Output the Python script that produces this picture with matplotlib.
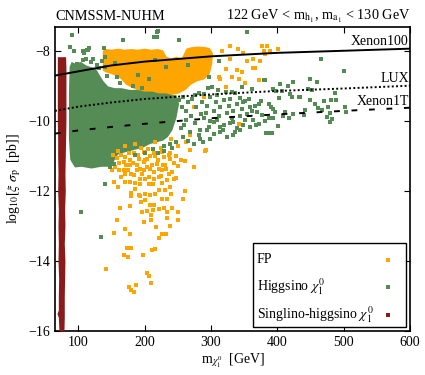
import numpy as np
import matplotlib.pyplot as plt
from matplotlib.patches import Rectangle

plt.rcParams['font.family'] = ['Liberation Serif', 'DejaVu Serif']
plt.rcParams['mathtext.fontset'] = 'stix'
plt.rcParams['font.size'] = 10

ORANGE = '#FFA500'
GREEN = '#558B55'
DARKRED = '#8B1A1A'

# exclusion limits, log10 of cross section vs neutralino mass
limit_m = [65, 100, 150, 200, 300, 400, 500, 600]
xenon100 = [-8.69, -8.57, -8.40, -8.29, -8.14, -8.04, -7.98, -7.92]
lux = [-9.70, -9.58, -9.46, -9.36, -9.23, -9.13, -9.06, -8.98]
xenon1t_m = [65, 100, 150, 200, 250, 300, 400, 500, 600]
xenon1t = [-10.35, -10.26, -10.16, -10.07, -9.99, -9.91, -9.80, -9.70, -9.61]

# outline of the dense higgsino cloud
green_poly_m = [87, 90, 96, 104, 112, 120, 127, 133, 138, 145, 155, 165, 178, 190, 200,
                212, 222, 232, 242, 248, 252, 248, 242, 235, 228, 218, 208, 198, 188, 178,
                168, 160, 155, 152, 145, 135, 120, 105, 95, 88, 86, 86]
green_poly_y = [-8.45, -8.30, -8.35, -8.30, -8.40, -8.45, -8.50, -8.70, -8.85, -9.00, -9.05,
                -9.05, -9.10, -9.10, -9.15, -9.15, -9.20, -9.20, -9.25, -9.25, -9.50, -9.90,
                -10.25, -10.45, -10.55, -10.60, -10.65, -10.75, -10.80, -10.85, -10.90, -10.95,
                -11.10, -11.25, -11.30, -11.30, -11.35, -11.30, -11.32, -11.10, -10.50, -9.20]

# outline of the dense FP cloud
orange_poly_m = [137, 142, 150, 160, 170, 180, 190, 200, 210, 220, 228, 233, 240, 248, 256,
                 263, 270, 280, 290, 298, 303, 302, 298, 290, 280, 270, 262, 252, 240, 225,
                 210, 195, 182, 172, 165, 158, 150, 142, 137]
orange_poly_y = [-7.98, -7.93, -7.95, -7.92, -7.95, -7.93, -7.95, -7.92, -7.95, -7.93, -7.97,
                 -8.15, -8.20, -8.15, -8.20, -7.92, -7.88, -7.86, -7.87, -7.90, -8.05, -8.35,
                 -8.65, -8.80, -8.85, -8.95, -9.10, -9.20, -9.25, -9.25, -9.20, -9.15, -9.05,
                 -8.95, -8.80, -8.70, -8.65, -8.60, -8.55]

# singlino-higgsino strip: edges at given heights
red_y = [-8.15, -8.5, -9, -9.5, -10, -10.5, -11, -11.5, -12, -12.5, -13, -13.5, -14,
         -14.5, -15, -15.4, -15.5, -15.6, -16]
red_left = [68.5, 68.5, 68.5, 68.5, 68.5, 69, 69, 69.5, 69, 70, 69.5, 70, 69.5, 70.5, 70,
            70, 68, 70, 71]
red_right = [81, 81.5, 81.5, 81.5, 81.5, 81, 80.5, 80, 80.5, 79.5, 80, 79, 80, 79.5, 79,
             79, 79, 79, 78.5]

# FP scattered points
fp_m = [291.6, 269, 261.5, 275, 250.4, 248, 261.5, 258, 250, 250.4, 240, 241.4, 239, 234,
        234, 234, 229, 232, 226, 221.3, 215.3, 211.3, 217.3, 209.8, 210.3, 212.3, 222.3,
        213.8, 207.8, 201.3, 196.3, 199.8, 203.8, 195.3, 192.2, 178.7, 163.6, 158.6, 171.2,
        178.7, 153.6, 173.7, 179.7, 168.7, 175.2, 197.8, 142.1, 203.8, 207.3, 209.8, 187.2,
        177.2, 180.2, 184.7, 179.7, 180.2, 192.7, 207.8, 234, 231.4, 221.3, 216.3, 206.3,
        193.7, 177.7, 171.2, 154.6, 160.1, 241.4, 239, 226.3, 236.4, 221.3, 213.8, 206.3,
        198.8, 192.7, 183.7, 179.7, 174.7, 168.7, 178.7, 188.7, 198.8, 211.3, 218.8, 231.4,
        239, 228.9, 216.3, 203.8, 191.2, 178.7, 168.7, 161.1, 156.1, 151.1, 171.2, 183.7,
        198.8, 213.8, 226.3, 239, 208.8, 221.3, 193.7, 201.3, 226.3,
        215, 225, 240, 250, 262, 205, 195, 185, 170, 160, 268, 292, 343, 290, 275,
        377, 384, 389, 380, 401, 382, 374, 367, 372,
        329, 341, 317, 349, 328, 364, 354, 322, 339, 347, 364, 332, 342, 352, 323, 372,
        312, 314, 343, 292,
        152, 158, 165, 172, 176, 182, 188, 190, 196, 200, 204, 208, 214, 220, 224, 228,
        233, 237, 244, 247, 255, 165, 170, 186, 200, 212, 226, 245, 185, 162]
fp_y = [-10.85, -10.83, -11.13, -11.32, -11.28, -11.62, -11.99, -12.23, -12.59, -12.83,
        -12.07, -12.48, -13.0, -12.78, -12.59, -12.23, -12.48, -13.21, -13.21, -13.35,
        -13.64, -13.69, -13.02, -12.83, -12.69, -12.54, -12.5, -12.4, -12.4, -12.26, -12.59,
        -12.88, -12.57, -12.32, -12.1, -12.43, -12.48, -12.83, -13.09, -13.21, -13.19,
        -13.62, -13.62, -13.83, -13.88, -13.83, -14.23, -14.33, -14.43, -14.62, -14.69,
        -14.73, -14.83, -14.88, -12.05, -12.13, -12.14, -12.12, -11.69, -11.97, -11.97,
        -12.07, -11.78, -11.78, -11.73, -11.73, -11.73, -11.88, -11.45, -11.88, -11.4, -11.5,
        -11.59, -11.64, -11.59, -11.4, -11.64, -11.54, -11.5, -11.4, -11.4, -11.26, -11.26,
        -11.16, -11.26, -11.21, -11.26, -11.07, -11.02, -11.0, -11.07, -11.07, -11.11,
        -11.16, -11.4, -11.31, -11.4, -11.02, -10.92, -10.88, -10.92, -10.88, -10.9, -11.35,
        -11.35, -11.35, -12.07, -12.21,
        -10.6, -10.75, -10.5, -10.7, -10.6, -10.8, -10.75, -10.65, -10.7, -10.85, -10.4,
        -10.82, -10.08, -9.3, -9.6,
        -7.84, -7.84, -7.98, -7.98, -7.93, -8.08, -8.27, -8.46, -8.82,
        -7.84, -7.93, -8.0, -8.03, -8.22, -8.22, -8.27, -8.49, -8.53, -8.6, -8.48, -8.72,
        -8.79, -8.91, -9.03, -8.82, -8.72, -8.79, -10.08, -10.82,
        -10.95, -11.05, -10.95, -11.25, -10.9, -11.2, -11.4, -10.95, -11.5, -11.1, -11.3,
        -11.0, -11.45, -11.1, -11.55, -11.25, -11.35, -10.95, -11.2, -11.0, -11.1, -11.6,
        -11.5, -11.75, -11.65, -11.8, -11.75, -11.65, -11.95, -11.2]

# higgsino scattered points
hg_m = [91, 88, 93, 107, 113, 116, 114, 108, 107.5, 120, 111, 122, 136, 98.5, 141, 156, 168,
        220, 355, 218.8, 252.4, 214.8, 218, 138.6, 141, 143.6, 158.6, 163.7, 190.2, 206.3,
        182, 196, 131, 128.5, 216, 233, 266, 312.6, 296.6, 301.6, 347, 362, 332, 344, 352,
        466, 500, 423, 450, 382, 394, 422, 434, 452, 481, 502, 480, 482, 424, 460, 404, 416,
        380, 398.5, 407, 447, 487, 419, 433, 402, 376, 372, 387, 391, 489, 470, 476, 467,
        457, 462, 449.5, 442, 441, 475.6, 479.6, 503, 412, 418, 409, 401, 391, 383, 382,
        387, 394, 373, 377, 394, 397, 369,
        289, 299, 309, 319, 329, 339, 349, 359, 366, 294, 304, 314, 324, 334, 344, 354, 364,
        289, 299, 309, 319, 329, 339, 349, 294, 304, 314, 324, 334, 284, 299, 274, 281.5,
        304, 384, 391.6, 314, 334, 359, 344,
        258, 265, 272, 278, 262, 270, 276, 260, 268, 282, 285, 258, 248, 238, 230, 212, 200,
        185, 103.5, 141, 133.6, 147.6, 153.6,
        252, 257, 262, 255, 266, 287, 292, 297, 307, 312, 318, 327, 332, 337, 347, 352, 357,
        362, 368, 296, 311, 322, 337, 276, 283, 288, 242, 220, 230]
hg_y = [-7.52, -7.88, -8.0, -8.0, -7.96, -7.9, -7.95, -8.04, -8.24, -8.3, -8.22, -8.22, -8.27,
        -8.36, -8.16, -8.33, -7.67, -7.42, -7.45, -7.45, -7.67, -7.58, -7.6, -7.9, -8.44,
        -8.7, -8.74, -8.89, -8.67, -8.79, -9.0, -9.05, -8.46, -8.38, -8.25, -8.44, -8.38,
        -8.27, -8.74, -9.03, -9.03, -9.08, -9.17, -9.34, -9.43,
        -8.23, -8.57, -8.88, -8.78, -8.83, -9.07, -9.3, -9.3, -9.09, -9.4, -9.59, -9.76,
        -9.92, -9.78, -8.87, -8.93, -8.98, -8.82, -9.12, -9.12, -9.08, -9.19, -9.22, -9.29,
        -9.34, -9.41, -9.5, -9.49, -9.6, -9.38, -9.41, -9.6, -9.68, -9.5, -9.63, -9.39,
        -9.68, -9.81, -9.87, -10.01, -9.72, -9.72, -9.89, -9.84, -10.12, -10.34, -10.34,
        -9.98, -9.89, -9.89, -10.08, -9.81, -9.65, -9.74, -9.74,
        -9.22, -9.3, -9.25, -9.4, -9.35, -9.5, -9.45, -9.6, -9.55, -9.55, -9.7, -9.6, -9.75,
        -9.7, -9.85, -9.8, -9.95, -9.9, -10.0, -9.95, -10.1, -10.05, -10.2, -10.1, -10.25,
        -10.35, -10.3, -10.45, -10.4, -10.5, -10.5, -10.64, -10.4, -10.02, -10.33, -10.33,
        -10.16, -10.02, -10.16, -10.26,
        -9.3, -9.45, -9.35, -9.6, -9.7, -9.85, -10.05, -10.1, -10.3, -9.2, -9.8, -10.45,
        -10.6, -10.65, -10.7, -10.8, -10.9, -10.95, -12.59, -11.8, -13.32, -11.32, -11.21,
        -9.4, -9.6, -9.95, -10.2, -10.55, -9.45, -9.75, -10.15, -9.45, -9.85, -10.25, -9.55,
        -9.9, -10.3, -9.65, -9.95, -9.35, -9.7, -10.1, -9.05, -9.1, -9.15, -9.2, -9.25,
        -10.25, -10.6, -10.75, -10.9, -10.85]

legend_labels = ['FP', r'Higgsino $\chi_1^0$', r'Singlino-higgsino $\chi_1^0$']
legend_colors = [ORANGE, GREEN, DARKRED]

fig = plt.figure(figsize=(4.25, 3.75), dpi=100)
ax = fig.add_axes([0.1294, 0.1173, 0.8353, 0.8107])

ms = 6
ax.fill(orange_poly_m, orange_poly_y, color=ORANGE, lw=0, zorder=1)
ax.fill(green_poly_m, green_poly_y, color=GREEN, lw=0, zorder=2)
ax.scatter(fp_m, fp_y, s=ms, marker='s', color=ORANGE, lw=0, zorder=3)
ax.scatter(hg_m, hg_y, s=ms, marker='s', color=GREEN, lw=0, zorder=4)
ax.fill_betweenx(red_y, red_left, red_right, color=DARKRED, lw=0, zorder=4)

ax.plot(limit_m, xenon100, color='black', lw=1.4, zorder=6)
ax.plot(limit_m, lux, color='black', lw=1.4, ls=(0, (1, 1.2)), zorder=6)
ax.plot(xenon1t_m, xenon1t, color='black', lw=1.4, ls=(0, (3, 6)), zorder=6)
ax.text(598, -7.71, 'Xenon100', ha='right', va='center', zorder=7)
ax.text(598, -8.76, 'LUX', ha='right', va='center', zorder=7)
ax.text(598, -9.43, 'Xenon1T', ha='right', va='center', zorder=7)

ax.set_xlim(65, 600)
ax.set_ylim(-16, -7.3)
ax.set_xticks([100, 200, 300, 400, 500, 600])
ax.set_yticks([-16, -14, -12, -10, -8])
ax.tick_params(direction='in', top=True, right=True, length=4, width=0.8)
for s in ax.spines.values():
    s.set_linewidth(1.2)

ax.set_xlabel(r'm$_{\chi_1^0}$  [GeV]', labelpad=2)
ax.set_ylabel(r'log$_{10}$[$\xi$ $\sigma_{\rm p}$  [pb]]', labelpad=4)
ax.set_title('CNMSSM-NUHM', loc='left', pad=5, fontsize=10.3)
ax.set_title(r'122 GeV < m$_{\rm h_1}$, m$_{\rm a_1}$ < 130 GeV', loc='right', pad=5,
             fontsize=10.3)

# legend: labels on the left, markers on the right
ax.add_patch(Rectangle((0.558, 0.013), 0.431, 0.276, transform=ax.transAxes,
                       facecolor='white', edgecolor='black', lw=1.0, zorder=10))
for i, (lab, col) in enumerate(zip(legend_labels, legend_colors)):
    yy = 0.2345 - i * 0.0905
    ax.text(0.569, yy, lab, transform=ax.transAxes, ha='left', va='center', zorder=11)
    ax.plot([0.938], [yy], transform=ax.transAxes, ls='', marker='s', ms=3, mew=0,
            color=col, zorder=11, clip_on=False)

fig.savefig('out.png', dpi=100)
